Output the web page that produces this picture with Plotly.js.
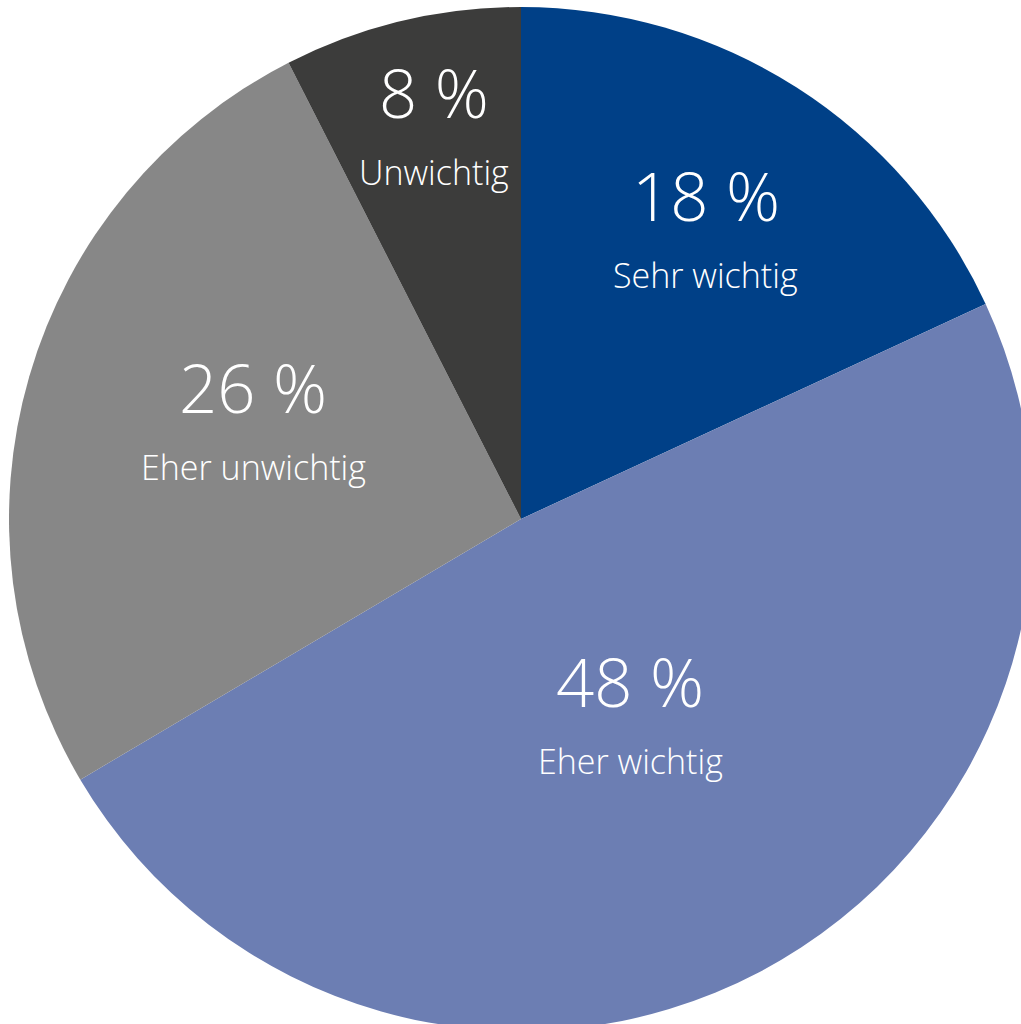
<!DOCTYPE html>
<html>
<head>
<meta charset="utf-8">
<script src="https://cdn.plot.ly/plotly-3.0.1.min.js"></script>
<style>
html,body{margin:0;padding:0;overflow:hidden;background:#fff;}
#chart{width:1033px;height:1031px;}
</style>
</head>
<body>
<div id="chart"></div>
<script>
// Data
const categories = ["Sehr wichtig", "Eher wichtig", "Eher unwichtig", "Unwichtig"];
const values = [18.1, 48.4, 26.0, 7.5];          // slice sizes as measured from the angles
const percentLabels = ["18 %", "48 %", "26 %", "8 %"]; // printed labels
const colors = ["#004087", "#6c7eb3", "#878787", "#3c3c3b"];

// style: placement of each label block (fraction of radius, angle nudge in degrees)
const labelRadius = [0.662, 0.448, 0.553, 0.774];
const labelAngleNudge = [0.5, -0.7, 2.75, 0.8];

const trace = {
  type: "pie",
  labels: categories,
  values: values,
  textinfo: "none",
  sort: false,
  direction: "clockwise",
  rotation: 0,
  marker: {colors: colors, line: {width: 0}},
  hoverinfo: "none",
  showlegend: false
};

const total = values.reduce((a, b) => a + b, 0);
const annotations = [];
let cum = 0;
values.forEach((v, i) => {
  const mid = (cum + v / 2) / total * 2 * Math.PI + labelAngleNudge[i] * Math.PI / 180;
  cum += v;
  const x = 0.5 + 0.5 * labelRadius[i] * Math.sin(mid);
  const y = 0.5 + 0.5 * labelRadius[i] * Math.cos(mid);
  annotations.push({
    xref: "paper", yref: "paper", x: x, y: y,
    xanchor: "center", yanchor: "middle", yshift: 40,
    text: percentLabels[i], showarrow: false,
    font: {family: "Open Sans", size: 67, color: "#ffffff", weight: 300}
  });
  annotations.push({
    xref: "paper", yref: "paper", x: x, y: y,
    xanchor: "center", yanchor: "middle", yshift: -40,
    text: categories[i], showarrow: false,
    font: {family: "Open Sans", size: 34, color: "#ffffff", weight: 300}
  });
});

const layout = {
  width: 1033,
  height: 1031,
  margin: {l: 9, r: 0, t: 7, b: 0, pad: 0},
  paper_bgcolor: "#ffffff",
  showlegend: false,
  annotations: annotations
};

Plotly.newPlot("chart", [trace], layout, {displayModeBar: false, staticPlot: true});
</script>
</body>
</html>
